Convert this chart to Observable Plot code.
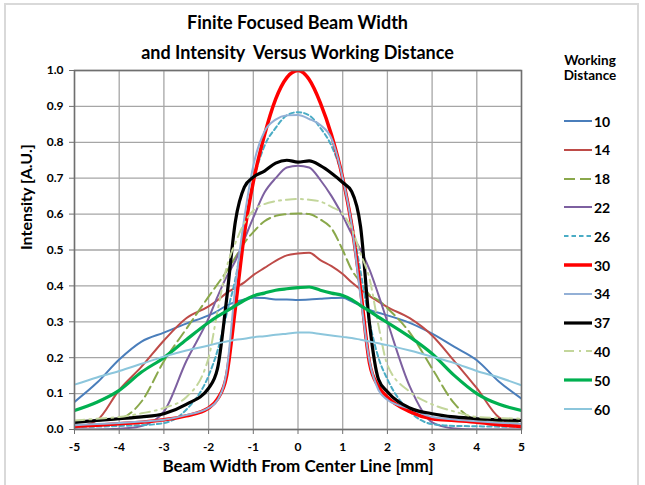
<!DOCTYPE html>
<html>
<head>
<meta charset="utf-8">
<script src="https://cdn.jsdelivr.net/npm/d3@7"></script>
<script src="https://cdn.jsdelivr.net/npm/@observablehq/plot@0.6"></script>
<style>
  html, body { margin: 0; padding: 0; background: #fff; overflow: hidden; }
  #wrap { position: relative; width: 645px; height: 485px; font-family: Lato, "Open Sans", sans-serif; }
  #border { position: absolute; left: 4px; top: 3px; width: 635px; height: 500px; border: 2px solid #d9d9d9; box-sizing: border-box; }
  #title { position: absolute; left: 0; width: 595px; top: 7px; text-align: center; font-weight: bold; font-size: 18px; line-height: 30px; white-space: pre; color: #000; }
  #legtitle { position: absolute; left: 550px; width: 80px; top: 53px; text-align: center; font-weight: bold; font-size: 13.5px; line-height: 15px; color: #000; }
  #chart { position: absolute; left: 0; top: 0; }
  .leg { position: absolute; left: 562px; height: 20px; display: flex; align-items: center; }
  .leg span { font-weight: bold; font-size: 14px; color: #000; margin-left: 2px; }
</style>
</head>
<body>
<div id="wrap">
  <div id="border"></div>
  <div id="chart"></div>
  <div id="title"></div>
  <div id="legtitle">Working<br>Distance</div>
</div>
<script>
// ---- Data ----
const titleLines = ["Finite Focused Beam Width", "and Intensity  Versus Working Distance"];
const xLabel = "Beam Width From Center Line [mm]";
const yLabel = "Intensity [A.U.]";
const xTicks = [-5, -4, -3, -2, -1, 0, 1, 2, 3, 4, 5];
const yTicks = [0, 0.1, 0.2, 0.3, 0.4, 0.5, 0.6, 0.7, 0.8, 0.9, 1.0];
const seriesNames = ["10", "14", "18", "22", "26", "30", "34", "37", "40", "50", "60"];

const xs = [-5, -4.5, -4, -3.5, -3, -2.5, -2, -1.8, -1.6, -1.4, -1.2, -1, -0.75, -0.5, -0.25, 0,
            0.25, 0.5, 0.75, 1, 1.2, 1.4, 1.6, 1.8, 2, 2.5, 3, 3.5, 4, 4.5, 5];

const s10 = [0.077, 0.13, 0.195, 0.245, 0.27, 0.295, 0.318, 0.33, 0.345, 0.355, 0.362, 0.367, 0.366, 0.362, 0.362, 0.361,
             0.362, 0.364, 0.366, 0.367, 0.357, 0.345, 0.333, 0.325, 0.318, 0.297, 0.267, 0.23, 0.193, 0.133, 0.086];
const s14 = [0.005, 0.025, 0.11, 0.175, 0.248, 0.31, 0.343, 0.36, 0.38, 0.395, 0.41, 0.43, 0.45, 0.47, 0.485, 0.49,
             0.492, 0.472, 0.455, 0.433, 0.41, 0.39, 0.372, 0.356, 0.341, 0.31, 0.262, 0.19, 0.115, 0.033, 0.01];
const s18 = [0.02, 0.025, 0.03, 0.078, 0.19, 0.28, 0.37, 0.405, 0.44, 0.48, 0.52, 0.55, 0.58, 0.595, 0.6, 0.602,
             0.6, 0.585, 0.56, 0.5, 0.445, 0.41, 0.375, 0.36, 0.338, 0.27, 0.17, 0.072, 0.027, 0.022, 0.02];
const s22 = [0.0, 0.0, 0.002, 0.01, 0.05, 0.19, 0.31, 0.37, 0.425, 0.47, 0.53, 0.59, 0.66, 0.70, 0.73, 0.735,
             0.73, 0.695, 0.65, 0.595, 0.545, 0.50, 0.445, 0.375, 0.30, 0.12, 0.02, 0.003, 0.0, 0.0, 0.0];
const s26 = [0.007, 0.008, 0.01, 0.012, 0.018, 0.055, 0.15, 0.22, 0.32, 0.42, 0.56, 0.69, 0.79, 0.84, 0.875, 0.884,
             0.875, 0.84, 0.79, 0.70, 0.58, 0.44, 0.30, 0.2, 0.14, 0.05, 0.015, 0.01, 0.009, 0.008, 0.008];
const s30 = [0.009, 0.012, 0.016, 0.02, 0.027, 0.038, 0.06, 0.085, 0.148, 0.34, 0.545, 0.69, 0.82, 0.92, 0.98, 1.0,
             0.975, 0.91, 0.82, 0.70, 0.57, 0.39, 0.185, 0.12, 0.09, 0.05, 0.03, 0.025, 0.02, 0.013, 0.008];
const s34 = [0.012, 0.015, 0.018, 0.022, 0.027, 0.04, 0.06, 0.082, 0.16, 0.40, 0.59, 0.735, 0.83, 0.863, 0.875, 0.876,
             0.865, 0.848, 0.81, 0.70, 0.57, 0.37, 0.19, 0.11, 0.083, 0.058, 0.035, 0.028, 0.023, 0.019, 0.016];
const s37 = [0.02, 0.025, 0.03, 0.035, 0.044, 0.07, 0.115, 0.17, 0.36, 0.58, 0.675, 0.703, 0.72, 0.742, 0.75, 0.745,
             0.748, 0.735, 0.714, 0.688, 0.663, 0.565, 0.294, 0.14, 0.105, 0.06, 0.044, 0.035, 0.03, 0.027, 0.025];
const s40 = [0.025, 0.03, 0.035, 0.045, 0.06, 0.09, 0.2, 0.33, 0.45, 0.52, 0.575, 0.61, 0.628, 0.636, 0.64, 0.642,
             0.64, 0.635, 0.62, 0.60, 0.56, 0.49, 0.42, 0.29, 0.18, 0.105, 0.07, 0.05, 0.035, 0.032, 0.03];
const s50 = [0.053, 0.076, 0.109, 0.16, 0.2, 0.25, 0.298, 0.315, 0.33, 0.345, 0.36, 0.372, 0.38, 0.388, 0.392, 0.395,
             0.397, 0.388, 0.38, 0.373, 0.362, 0.345, 0.33, 0.313, 0.298, 0.258, 0.211, 0.15, 0.1, 0.07, 0.053];
const s60 = [0.125, 0.145, 0.163, 0.183, 0.203, 0.22, 0.234, 0.24, 0.245, 0.25, 0.253, 0.257, 0.26, 0.264, 0.267, 0.27,
             0.27, 0.266, 0.262, 0.258, 0.255, 0.25, 0.245, 0.24, 0.235, 0.22, 0.203, 0.185, 0.163, 0.145, 0.123];

const seriesValues = [s10, s14, s18, s22, s26, s30, s34, s37, s40, s50, s60];

// ---- Styles ----
const colors = ["#4A7EBB", "#BE4B48", "#8AA84B", "#7D60A0", "#4AACC5", "#FF0000", "#93B0D6", "#000000", "#C3D69B", "#00B050", "#8CC6DC"];
const widths = [2, 2, 2, 2, 2, 3.5, 2, 3.2, 2, 3.2, 2];
const dashes = [null, null, "11,5", null, "4.5,3", null, null, null, "10,5,2,5", null, null];

const rows = [];
seriesNames.forEach((name, i) => {
  seriesValues[i].forEach((v, j) => rows.push({series: name, x: xs[j], y: v}));
});

const lineMarks = seriesNames.map((name, i) =>
  Plot.line(rows.filter(d => d.series === name), {
    x: "x", y: "y", stroke: colors[i], strokeWidth: widths[i],
    strokeDasharray: dashes[i] || undefined, curve: "monotone-x", clip: true
  })
);

const chart = Plot.plot({
  width: 645, height: 485,
  marginLeft: 74, marginRight: 124, marginTop: 70, marginBottom: 56,
  style: {fontFamily: "Lato, sans-serif", background: "transparent", color: "#000"},
  x: {domain: [-5, 5]},
  y: {domain: [0, 1]},
  marks: [
    Plot.gridX(xTicks, {stroke: "#a6a6a6", strokeOpacity: 1, strokeWidth: 1.3}),
    Plot.gridY(yTicks, {stroke: "#a6a6a6", strokeOpacity: 1, strokeWidth: 1.3}),
    ...lineMarks,
    Plot.frame({stroke: "#6f6f6f", strokeWidth: 1.5}),
    Plot.axisX(xTicks, {tickFormat: d => String(d), tickSize: 5, tickPadding: 8, label: null,
      fontSize: 12, fontWeight: "bold", stroke: "#6f6f6f"}),
    Plot.axisY(yTicks, {tickFormat: d3.format(".1f"), tickSize: 5, tickPadding: 6, label: null,
      fontSize: 12, fontWeight: "bold", stroke: "#6f6f6f"}),
    Plot.text([xLabel], {frameAnchor: "bottom", dy: 42, fontSize: 17, fontWeight: "bold", fill: "#000"}),
    Plot.text([yLabel], {frameAnchor: "left", dx: -48, rotate: -90, fontSize: 16, fontWeight: "bold", fill: "#000"})
  ]
});
document.getElementById("chart").appendChild(chart);
document.getElementById("title").textContent = titleLines.join("\n");

// Legend
const wrap = document.getElementById("wrap");
seriesNames.forEach((name, i) => {
  const cy = 121 + i * 28.8;
  const item = document.createElement("div");
  item.className = "leg";
  item.style.top = (cy - 10) + "px";
  const dash = dashes[i] ? `stroke-dasharray="${dashes[i]}"` : "";
  item.innerHTML = `<svg width="30" height="20"><line x1="2" x2="30" y1="10" y2="10" stroke="${colors[i]}" stroke-width="${widths[i]}" ${dash}/></svg><span>${name}</span>`;
  wrap.appendChild(item);
});
</script>
</body>
</html>
